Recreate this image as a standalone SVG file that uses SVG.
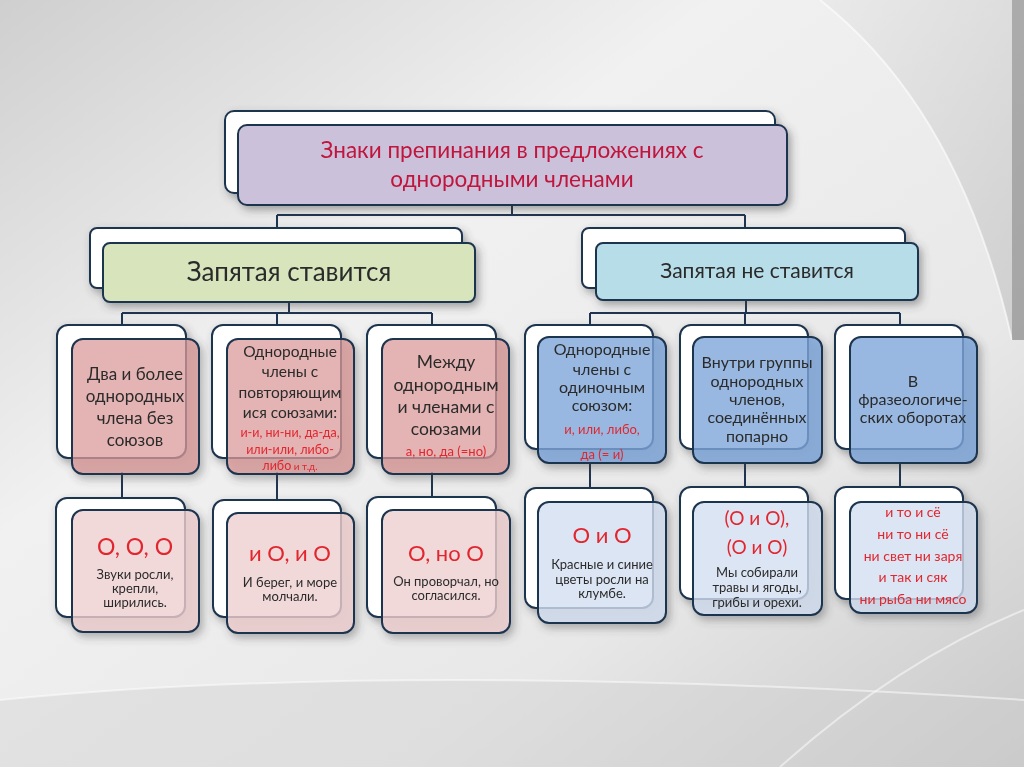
<svg xmlns="http://www.w3.org/2000/svg" width="1024" height="767" viewBox="0 0 1024 767">
<defs>
<linearGradient id="bg" x1="0" y1="0" x2="1" y2="1">
<stop offset="0" stop-color="#cfcfcf"/>
<stop offset="0.35" stop-color="#f1f1f1"/>
<stop offset="0.7" stop-color="#e8e8e8"/>
<stop offset="1" stop-color="#c8c8c8"/>
</linearGradient>
<linearGradient id="corner" x1="0" y1="0" x2="1" y2="1">
<stop offset="0" stop-color="#e6e6e6"/>
<stop offset="1" stop-color="#bdbdbd"/>
</linearGradient>
<filter id="sh" x="-20%" y="-20%" width="140%" height="140%">
<feDropShadow dx="3" dy="4" stdDeviation="4" flood-color="#404040" flood-opacity="0.45"/>
</filter>
<style>
.back{fill:#ffffff;stroke:#1f3450;stroke-width:2}
.f{stroke:#1f3450;stroke-width:2}
.conn{fill:none;stroke:#1f3450;stroke-width:2}
.t{font-family:Lato,"Liberation Sans",sans-serif;text-anchor:middle;fill:#2b2b2b}
.r{font-family:Lato,"Liberation Sans",sans-serif;text-anchor:middle;fill:#e2262f}
</style>
</defs>
<rect width="1024" height="767" fill="url(#bg)"/>
<path d="M820,0 Q960,110 1012,340 L1024,340 L1024,0 Z" fill="url(#corner)" opacity="0.6"/>
<path d="M820,0 Q960,110 1012,340" fill="none" stroke="#ffffff" stroke-width="2" opacity="0.6"/>
<rect x="1012" y="0" width="12" height="340" fill="#8a8a8a" opacity="0.6"/>
<path d="M0,700 Q400,660 1024,700 L1024,767 L0,767 Z" fill="#cfcfcf" opacity="0.4"/>
<path d="M0,700 Q400,660 1024,700" fill="none" stroke="#ffffff" stroke-width="2" opacity="0.5"/>
<path d="M780,767 Q900,660 1024,610" fill="none" stroke="#ffffff" stroke-width="2" opacity="0.5"/>

<g id="connectors">
<path class="conn" d="M512,205 V215 M277,215 H745 M277,215 V228 M745,215 V228"/>
<path class="conn" d="M289,302 V313 M122,313 H432 M122,313 V325 M277,313 V325 M432,313 V325"/>
<path class="conn" d="M746,300 V313 M590,313 H900 M590,313 V325 M745,313 V325 M900,313 V325"/>
<path class="conn" d="M122,472 V498 M277,472 V500 M432,472 V497 M590,463 V488 M745,463 V487 M900,463 V487"/>
</g>

<g id="title" filter="url(#sh)">
<rect class="back" x="225" y="111" width="550" height="82" rx="9"/>
<rect class="f" x="238" y="125" width="549" height="80" rx="9" fill="#ccc1da"/>
<text class="t" x="512" y="158" font-size="22.5" style="fill:#c0143c">Знаки препинания в предложениях с</text>
<text class="t" x="512" y="187" font-size="22.5" style="fill:#c0143c">однородными членами</text>
</g>

<g id="comma-yes" filter="url(#sh)">
<rect class="back" x="90" y="228" width="372" height="60" rx="7"/>
<rect class="f" x="103" y="243" width="372" height="59" rx="7" fill="#d7e4bc"/>
<text class="t" x="289" y="281" font-size="26">Запятая ставится</text>
</g>

<g id="comma-no" filter="url(#sh)">
<rect class="back" x="582" y="228" width="323" height="60" rx="7"/>
<rect class="f" x="596" y="243" width="322" height="57" rx="7" fill="#b7dde8"/>
<text class="t" x="757" y="278" font-size="21">Запятая не ставится</text>
</g>

<g id="n1" filter="url(#sh)">
<rect class="back" x="57" y="325" width="129" height="133" rx="11"/>
<rect class="f" x="72" y="339" width="127" height="135" rx="11" fill="#db9a9a" fill-opacity="0.75"/>
<text class="t" x="135" y="380" font-size="17">Два и более</text>
<text class="t" x="135" y="402" font-size="17">однородных</text>
<text class="t" x="135" y="424" font-size="17">члена без</text>
<text class="t" x="135" y="446" font-size="17">союзов</text>
</g>

<g id="n2" filter="url(#sh)">
<rect class="back" x="212" y="325" width="129" height="133" rx="11"/>
<rect class="f" x="227" y="339" width="127" height="135" rx="11" fill="#db9a9a" fill-opacity="0.75"/>
<text class="t" x="290" y="357" font-size="15.5">Однородные</text>
<text class="t" x="290" y="377" font-size="15.5">члены с</text>
<text class="t" x="290" y="398" font-size="15.5">повторяющим</text>
<text class="t" x="290" y="418" font-size="15.5">ися союзами:</text>
<text class="r" x="290" y="437" font-size="12.5">и-и, ни-ни, да-да,</text>
<text class="r" x="290" y="454" font-size="12.5">или-или, либо-</text>
<text class="r" x="290" y="470" font-size="12.5">либо<tspan font-size="10"> и т.д.</tspan></text>
</g>

<g id="n3" filter="url(#sh)">
<rect class="back" x="367" y="325" width="129" height="133" rx="11"/>
<rect class="f" x="382" y="339" width="127" height="135" rx="11" fill="#db9a9a" fill-opacity="0.75"/>
<text class="t" x="446" y="368" font-size="17.5">Между</text>
<text class="t" x="446" y="391" font-size="17.5">однородным</text>
<text class="t" x="446" y="413" font-size="17.5">и членами с</text>
<text class="t" x="446" y="435" font-size="17.5">союзами</text>
<text class="r" x="446" y="456" font-size="13">а, но, да (=но)</text>
</g>

<g id="n4" filter="url(#sh)">
<rect class="back" x="525" y="325" width="128" height="124" rx="11"/>
<rect class="f" x="538" y="337" width="128" height="126" rx="11" fill="#7ea6da" fill-opacity="0.8"/>
<text class="t" x="602" y="355" font-size="16">Однородные</text>
<text class="t" x="602" y="375" font-size="16">члены с</text>
<text class="t" x="602" y="393" font-size="16">одиночным</text>
<text class="t" x="602" y="411" font-size="16">союзом:</text>
<text class="r" x="602" y="434" font-size="13">и, или, либо,</text>
<text class="r" x="602" y="459" font-size="13">да (= и)</text>
</g>

<g id="n5" filter="url(#sh)">
<rect class="back" x="680" y="325" width="128" height="124" rx="11"/>
<rect class="f" x="693" y="337" width="129" height="126" rx="11" fill="#7ea6da" fill-opacity="0.8"/>
<text class="t" x="757" y="368" font-size="16">Внутри группы</text>
<text class="t" x="757" y="387" font-size="16">однородных</text>
<text class="t" x="757" y="405" font-size="16">членов,</text>
<text class="t" x="757" y="423" font-size="16">соединённых</text>
<text class="t" x="757" y="442" font-size="16">попарно</text>
</g>

<g id="n6" filter="url(#sh)">
<rect class="back" x="835" y="325" width="128" height="124" rx="11"/>
<rect class="f" x="850" y="337" width="127" height="126" rx="11" fill="#7ea6da" fill-opacity="0.8"/>
<text class="t" x="913" y="387" font-size="16">В</text>
<text class="t" x="913" y="405" font-size="16">фразеологиче-</text>
<text class="t" x="913" y="423" font-size="16">ских оборотах</text>
</g>

<g id="e1" filter="url(#sh)">
<rect class="back" x="56" y="498" width="129" height="119" rx="11"/>
<rect class="f" x="72" y="510" width="127" height="122" rx="11" fill="#efcfcf" fill-opacity="0.8"/>
<text class="r" x="135" y="555" font-size="23">О, О, О</text>
<text class="t" x="135" y="579" font-size="13">Звуки росли,</text>
<text class="t" x="135" y="593" font-size="13">крепли,</text>
<text class="t" x="135" y="607" font-size="13">ширились.</text>
</g>

<g id="e2" filter="url(#sh)">
<rect class="back" x="213" y="500" width="128" height="117" rx="11"/>
<rect class="f" x="227" y="513" width="127" height="120" rx="11" fill="#efcfcf" fill-opacity="0.8"/>
<text class="r" x="290" y="561" font-size="22">и О, и О</text>
<text class="t" x="290" y="587" font-size="13">И берег, и море</text>
<text class="t" x="290" y="601" font-size="13">молчали.</text>
</g>

<g id="e3" filter="url(#sh)">
<rect class="back" x="367" y="497" width="129" height="120" rx="11"/>
<rect class="f" x="382" y="510" width="128" height="123" rx="11" fill="#efcfcf" fill-opacity="0.8"/>
<text class="r" x="446" y="561" font-size="22">О, но О</text>
<text class="t" x="446" y="586" font-size="13">Он проворчал, но</text>
<text class="t" x="446" y="600" font-size="13">согласился.</text>
</g>

<g id="e4" filter="url(#sh)">
<rect class="back" x="525" y="488" width="128" height="120" rx="11"/>
<rect class="f" x="538" y="502" width="128" height="121" rx="11" fill="#d3dff0" fill-opacity="0.8"/>
<text class="r" x="602" y="543" font-size="22">О и О</text>
<text class="t" x="602" y="569" font-size="13">Красные и синие</text>
<text class="t" x="602" y="584" font-size="13">цветы росли на</text>
<text class="t" x="602" y="598" font-size="13">клумбе.</text>
</g>

<g id="e5" filter="url(#sh)">
<rect class="back" x="680" y="487" width="128" height="112" rx="11"/>
<rect class="f" x="693" y="502" width="129" height="113" rx="11" fill="#d3dff0" fill-opacity="0.8"/>
<text class="r" x="757" y="525" font-size="19">(О и О),</text>
<text class="r" x="757" y="554" font-size="19">(О и О)</text>
<text class="t" x="757" y="577" font-size="13">Мы собирали</text>
<text class="t" x="757" y="592" font-size="13">травы и ягоды,</text>
<text class="t" x="757" y="607" font-size="13">грибы и орехи.</text>
</g>

<g id="e6" filter="url(#sh)">
<rect class="back" x="835" y="487" width="128" height="112" rx="11"/>
<rect class="f" x="850" y="502" width="127" height="111" rx="11" fill="#d3dff0" fill-opacity="0.8"/>
<text class="r" x="913" y="517" font-size="14">и то и сё</text>
<text class="r" x="913" y="539" font-size="14">ни то ни сё</text>
<text class="r" x="913" y="561" font-size="14">ни свет ни заря</text>
<text class="r" x="913" y="582" font-size="14">и так и сяк</text>
<text class="r" x="913" y="604" font-size="14">ни рыба ни мясо</text>
</g>
</svg>
